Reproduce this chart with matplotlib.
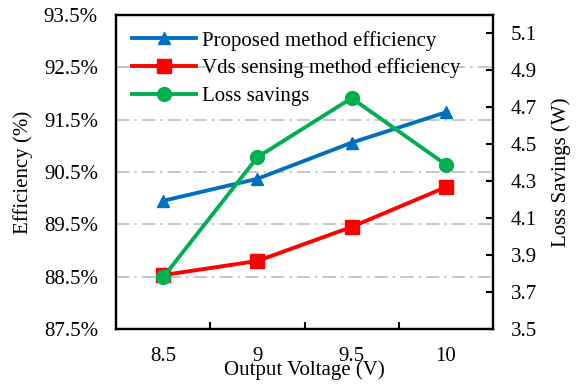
import matplotlib
matplotlib.use("Agg")
import matplotlib.pyplot as plt
import numpy as np

plt.rcParams['font.family'] = ['Liberation Serif', 'DejaVu Serif']

voltages = ['8.5', '9', '9.5', '10']
proposed_eff = [89.95, 90.37, 91.06, 91.64]
vds_eff = [88.53, 88.80, 89.45, 90.21]
loss_savings = [3.78, 4.43, 4.75, 4.39]

eff_ticks = [87.5, 88.5, 89.5, 90.5, 91.5, 92.5, 93.5]
loss_ticks = [3.5, 3.7, 3.9, 4.1, 4.3, 4.5, 4.7, 4.9, 5.1]

BLUE = '#0070C0'
RED = '#FF0000'
GREEN = '#00B050'
FS = 15

fig = plt.figure(figsize=(5.78, 3.84), dpi=100)
ax = fig.add_axes([116/578, 55/384, 377/578, 314/384])
ax2 = ax.twinx()

x = np.arange(len(voltages))

l1, = ax.plot(x, proposed_eff, color=BLUE, lw=2.8, marker='^', ms=9, zorder=3,
              label='Proposed method efficiency')
l2, = ax.plot(x, vds_eff, color=RED, lw=2.8, marker='s', ms=9.5, zorder=3,
              label='Vds sensing method efficiency')
l3, = ax2.plot(x, loss_savings, color=GREEN, lw=2.8, marker='o', ms=10, zorder=3,
               label='Loss savings')

ax.set_xlim(-0.5, 3.5)
ax.set_ylim(87.5, 93.5)
ax2.set_ylim(3.5, 5.2)

ax.set_yticks(eff_ticks)
ax.set_yticklabels([f'{v:.1f}%' for v in eff_ticks], fontsize=FS)
ax.tick_params(axis='y', length=0, pad=13)

ax2.set_yticks(loss_ticks)
ax2.set_yticklabels([f'{v:.1f}' for v in loss_ticks], fontsize=FS)
ax2.tick_params(axis='y', direction='in', length=5, width=1.5, pad=13)

ax.set_xticks(x)
ax.set_xticklabels(voltages, fontsize=FS)
ax.set_xticks([0.5, 1.5, 2.5], minor=True)
ax.tick_params(axis='x', which='major', length=0, pad=13)
ax.tick_params(axis='x', which='minor', direction='in', length=5, width=1.5)

for gy in eff_ticks[1:-1]:
    ax.axhline(gy, color='#BFBFBF', lw=1.2, ls=(0, (8, 3, 1.5, 3)), zorder=1)

for a in (ax, ax2):
    for s in a.spines.values():
        s.set_linewidth(1.6)

ax.set_ylabel('Efficiency (%)', fontsize=FS, labelpad=8)
ax2.set_ylabel('Loss Savings (W)', fontsize=FS, labelpad=10)
ax.set_xlabel('Output Voltage (V)', fontsize=FS, labelpad=-4.5)

ax2.legend(handles=[l1, l2, l3], loc='upper left', bbox_to_anchor=(0.0, 1.0),
           frameon=False, fontsize=FS, handlelength=3.1, handletextpad=0.3,
           labelspacing=0.38, borderaxespad=0.35)

fig.savefig('out.png', dpi=100)
